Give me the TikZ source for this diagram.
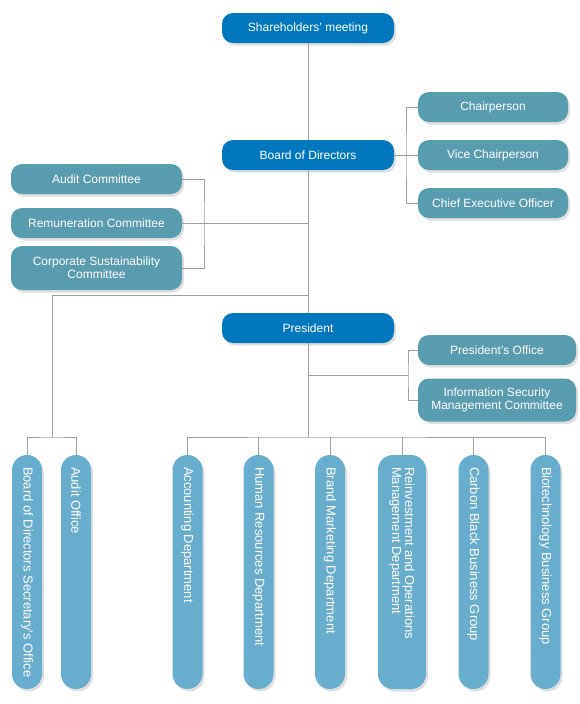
\documentclass[tikz,border=0pt]{standalone}
\usepackage{fontspec}
\setmainfont{Liberation Sans}
\usetikzlibrary{shadows}
\definecolor{bossblue}{HTML}{0277BD}
\definecolor{boardteal}{HTML}{579DAE}
\definecolor{deptblue}{HTML}{66ADCE}
\definecolor{linkgray}{HTML}{A0A0A0}

\begin{document}
\begin{tikzpicture}[x = 1pt, y = 1pt,
    font = \fontsize{12}{13}\selectfont,
    box/.style = {rounded corners = 11pt, text = white, align = center, inner sep = 2pt, minimum height = 30pt, drop shadow = {shadow xshift = 2pt, shadow yshift = -2.5pt, opacity = 0.25}},
    head/.style = {box, fill = bossblue, minimum width = 172pt},
    member/.style = {box, fill = boardteal, minimum width = 150pt},
    cmte/.style = {box, fill = boardteal, minimum width = 171pt},
    staff/.style = {box, fill = boardteal, minimum width = 158pt},
    dept/.style = {rounded corners = 15pt, fill = deptblue, minimum width = 30pt, minimum height = 234pt, inner sep = 0pt, drop shadow = {shadow xshift = 2pt, shadow yshift = -2.5pt, opacity = 0.25}},
    depttext/.style = {rotate = -90, anchor = west, text = white, align = left, inner sep = 0pt, font = \fontsize{13}{13}\selectfont},
    link/.style = {draw = linkgray, line width = 0.9pt},
    ]
    \useasboundingbox (0,0) rectangle (580,-704);

    % top of the chart
    \node[head] (share) at (308,-28) {Shareholders’ meeting};
    \node[head] (board) at (308,-155) {Board of Directors};
    \node[head] (pres) at (308,-328) {President};

    \node[member] (chair) at (493,-107) {Chairperson};
    \node[member] (vice) at (493,-155) {Vice Chairperson};
    \node[member] (ceo) at (493,-203) {Chief Executive Officer};

    \node[cmte] (audit) at (96.5,-179) {Audit Committee};
    \node[cmte] (remun) at (96.5,-223) {Remuneration Committee};
    \node[cmte, minimum height = 44pt] (csr) at (96.5,-268) {Corporate Sustainability\\Committee};

    \node[staff] (presoff) at (497,-350) {President’s Office};
    \node[staff, minimum height = 43pt] (infosec) at (497,-400) {Information Security\\Management Committee};

    % departments
    \node[dept] (sec) at (27,-572) {};
    \node[dept] (auditoff) at (76,-572) {};
    \node[dept] (acc) at (187.5,-572) {};
    \node[dept] (hr) at (258.5,-572) {};
    \node[dept] (brand) at (330,-572) {};
    \node[dept, minimum width = 48pt] (reinv) at (402,-572) {};
    \node[dept] (carbon) at (473.5,-572) {};
    \node[dept] (bio) at (545.5,-572) {};

    \node[depttext] (sectext) at ([yshift=-12pt]sec.north) {Board of Directors Secretary’s Office};
    \node[depttext] (audittext) at ([yshift=-12pt]auditoff.north) {Audit Office};
    \node[depttext] (acctext) at ([yshift=-12pt]acc.north) {Accounting Department};
    \node[depttext] (hrtext) at ([yshift=-12pt]hr.north) {Human Resources Department};
    \node[depttext] (brandtext) at ([yshift=-12pt]brand.north) {Brand Marketing Department};
    \node[depttext] (reinvtext) at ([yshift=-12pt]reinv.north) {Reinvestment and Operations\\Management Department};
    \node[depttext] (carbontext) at ([yshift=-12pt]carbon.north) {Carbon Black Business Group};
    \node[depttext] (biotext) at ([yshift=-12pt]bio.north) {Biotechnology Business Group};

    % junctions
    \coordinate (bj) at (406,-155);
    \coordinate (cj) at (204,-223);
    \coordinate (tj1) at (308,-223);
    \coordinate (tj2) at (308,-295);
    \coordinate (lj) at (52,-437);
    \coordinate (tj3) at (308,-375);
    \coordinate (pj) at (408,-375);
    \coordinate (dj) at (308,-437);

    \draw[link] (share) -- (board);
    \draw[link] (board) -- (pres);
    \draw[link] (pres) -- (dj);
    \draw[link] (board.east) -- (vice.west);
    \draw[link] (chair.west) -| (bj) |- (ceo.west);
    \draw[link] (audit.east) -| (cj) |- (csr.east);
    \draw[link] (remun.east) -- (tj1);
    \draw[link] (tj2) -| (lj);
    \draw[link] (sec.north) |- (lj) -| (auditoff.north);
    \draw[link] (tj3) -- (pj);
    \draw[link] (presoff.west) -| (pj) |- (infosec.west);
    \draw[link] (acc.north) |- (dj) -| (bio.north);
    \foreach \d in {hr, brand, reinv, carbon}
        \draw[link] (\d.north) -- (\d.north |- dj);
\end{tikzpicture}
\end{document}
